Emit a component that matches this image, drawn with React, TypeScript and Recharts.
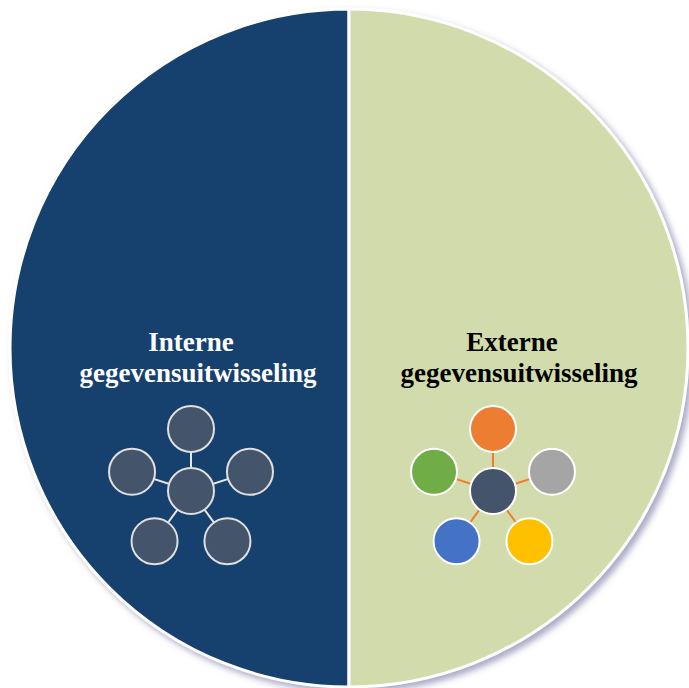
import { PieChart, Pie, Cell } from "recharts";

const categories = ["Interne gegevensuitwisseling", "Externe gegevensuitwisseling"];
const shares = [50, 50];
const titleLines = [
  ["Interne", "gegevensuitwisseling"],
  ["Externe", "gegevensuitwisseling"],
];

const sliceColors = ["#173F6D", "#D2DBAB"];
const textColors = ["#FFFFFF", "#000000"];
// node colours for the little network icon: centre, top, right, bottom-right, bottom-left, left
const nodeColors = [
  ["#44546A", "#44546A", "#44546A", "#44546A", "#44546A", "#44546A"],
  ["#44546A", "#ED7D31", "#A5A5A5", "#FFC000", "#4472C4", "#70AD47"],
];
const linkColors = ["#E6E6E6", "#ED7D31"];
const nodeStroke = ["#E0E0E0", "#FFFFFF"];

const data = categories.map((name, i) => ({ name, value: shares[i] }));

// per slice: horizontal offset of text and icon from the pie centre
const textOffset = [-151, 170];
const iconOffset = [-158, 144];

const NetworkIcon = ({ x, y, idx }: { x: number; y: number; idx: number }) => {
  const spoke = 62;
  const r = 23;
  const angles = [-90, -18, 54, 126, 198];
  const nodes = angles.map((a) => ({
    x: x + spoke * Math.cos((a * Math.PI) / 180),
    y: y + spoke * Math.sin((a * Math.PI) / 180),
  }));
  return (
    <g>
      {nodes.map((n, i) => (
        <line key={"l" + i} x1={x} y1={y} x2={n.x} y2={n.y} stroke={linkColors[idx]} strokeWidth={2} />
      ))}
      <circle cx={x} cy={y} r={r} fill={nodeColors[idx][0]} stroke={nodeStroke[idx]} strokeWidth={2} />
      {nodes.map((n, i) => (
        <circle key={"c" + i} cx={n.x} cy={n.y} r={r} fill={nodeColors[idx][i + 1]} stroke={nodeStroke[idx]} strokeWidth={2} />
      ))}
    </g>
  );
};

const renderLabel = (props: any) => {
  const { cx, cy, index } = props;
  const tx = cx + textOffset[index];
  return (
    <g>
      <text
        x={tx}
        y={cy}
        textAnchor="middle"
        fill={textColors[index]}
        fontFamily="'Liberation Serif', serif"
        fontWeight="bold"
        fontSize={27}
      >
        <tspan x={tx - 7} dy={3}>{titleLines[index][0]}</tspan>
        <tspan x={tx} dy={31}>{titleLines[index][1]}</tspan>
      </text>
      <NetworkIcon x={cx + iconOffset[index]} y={cy + 143} idx={index} />
    </g>
  );
};

export default function App() {
  return (
    <div style={{ position: "absolute", left: 0, top: 0, width: 689, height: 688, background: "#fff" }}>
      <PieChart width={689} height={688} margin={{ top: 0, right: 0, bottom: 0, left: 0 }}>
        <defs>
          <filter id="pieShadow" x="-10%" y="-10%" width="120%" height="120%">
            <feDropShadow dx={4} dy={4} stdDeviation={3} floodColor="#7070a0" floodOpacity={0.6} />
          </filter>
        </defs>
        <Pie
          data={data}
          dataKey="value"
          nameKey="name"
          cx={349}
          cy={348}
          outerRadius={339}
          startAngle={90}
          endAngle={450}
          stroke="#FFFFFF"
          strokeWidth={3}
          label={renderLabel}
          labelLine={false}
          isAnimationActive={false}
          style={{ filter: "url(#pieShadow)" }}
        >
          {data.map((d, i) => (
            <Cell key={d.name} fill={sliceColors[i]} />
          ))}
        </Pie>
      </PieChart>
    </div>
  );
}
